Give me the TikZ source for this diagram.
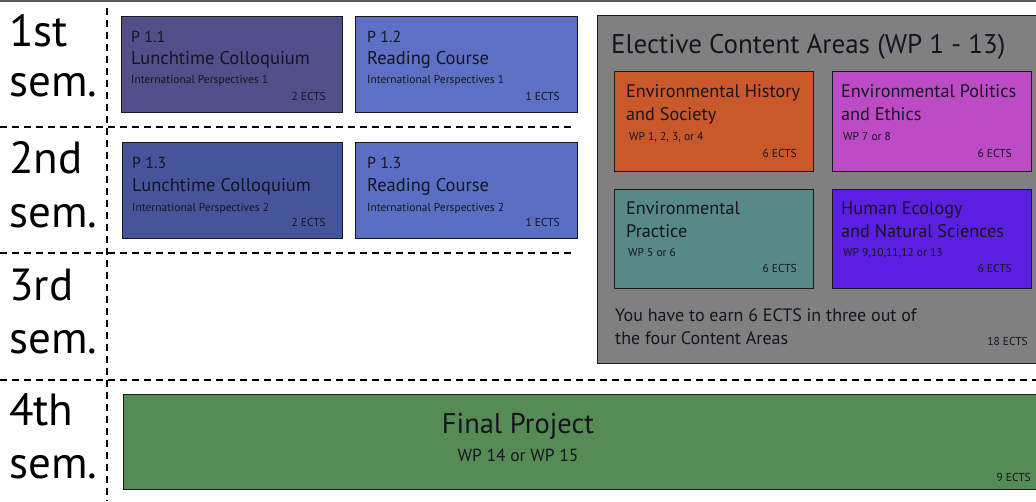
\documentclass[tikz,border=0pt]{standalone}
\usepackage{fontspec}
\setmainfont{PT Sans}
\definecolor{cP11}{HTML}{524E8C}
\definecolor{cP12}{HTML}{5D70C4}
\definecolor{cP13}{HTML}{46559B}
\definecolor{cP14}{HTML}{5A6EC3}
\definecolor{cGrey}{HTML}{808080}
\definecolor{cOrange}{HTML}{C9582A}
\definecolor{cMagenta}{HTML}{BD4BC6}
\definecolor{cTeal}{HTML}{578A87}
\definecolor{cPurple}{HTML}{5A1FE0}
\definecolor{cGreen}{HTML}{568B56}
\definecolor{cText}{HTML}{15151F}
\begin{document}
\begin{tikzpicture}[x=1pt,y=-1pt,
  boxnode/.style={draw=black!90, line width=1.2pt, anchor=north west, inner sep=0pt},
  txt/.style={anchor=base west, inner sep=0pt, text=cText},
  rtxt/.style={anchor=base east, inner sep=0pt, text=cText},
  semtxt/.style={anchor=base west, inner sep=0pt, font=\fontsize{45}{45}\selectfont},
  fpA/.style={font=\fontsize{16}{16}\selectfont},
  fpB/.style={font=\fontsize{18.5}{18.5}\selectfont},
  fpC/.style={font=\fontsize{11.5}{11.5}\selectfont},
  fpD/.style={font=\fontsize{18.2}{18.2}\selectfont},
  sepline/.style={line width=1.3pt, dash pattern=on 7pt off 5pt}]
\useasboundingbox (0,0) rectangle (1036,501);
\fill[white] (0,0) rectangle (1036,501);
\fill[black!65] (0,0) rectangle (1036,1.8);

% separators
\draw[sepline] (107,8) -- (107,501);
\draw[sepline] (0,127) -- (575,127);
\draw[sepline] (0,253) -- (575,253);
\draw[sepline] (0,380) -- (1036,380);

% semester labels
\node[semtxt] (s1a) at (9,46) {1st};
\node[semtxt] (s1b) at (9,96) {sem.};
\node[semtxt] (s2a) at (9,173) {2nd};
\node[semtxt] (s2b) at (9,227) {sem.};
\node[semtxt] (s3a) at (9,300) {3rd};
\node[semtxt] (s3b) at (9,353) {sem.};
\node[semtxt] (s4a) at (9,425) {4th};
\node[semtxt] (s4b) at (9,478) {sem.};

% first semester
\node[boxnode, fill=cP11, minimum width=221pt, minimum height=96pt] (p11) at (121,16) {};
\node[txt, fpA] at (131,42) {P 1.1};
\node[txt, fpB] at (131,64) {Lunchtime Colloquium};
\node[txt, fpC] at (131,83) {International Perspectives 1};
\node[rtxt, fpC] at (326,100) {2 ECTS};

\node[boxnode, fill=cP12, minimum width=222pt, minimum height=96pt] (p12) at (355,16) {};
\node[txt, fpA] at (367,42) {P 1.2};
\node[txt, fpB] at (367,64) {Reading Course};
\node[txt, fpC] at (367,83) {International Perspectives 1};
\node[rtxt, fpC] at (560,100) {1 ECTS};

% second semester
\node[boxnode, fill=cP13, minimum width=220pt, minimum height=96pt] (p13a) at (122,142) {};
\node[txt, fpA] at (132,168) {P 1.3};
\node[txt, fpB] at (132,191) {Lunchtime Colloquium};
\node[txt, fpC] at (132,211) {International Perspectives 2};
\node[rtxt, fpC] at (326,226) {2 ECTS};

\node[boxnode, fill=cP14, minimum width=222pt, minimum height=96pt] (p13b) at (355,142) {};
\node[txt, fpA] at (367,168) {P 1.3};
\node[txt, fpB] at (367,191) {Reading Course};
\node[txt, fpC] at (367,211) {International Perspectives 2};
\node[rtxt, fpC] at (560,226) {1 ECTS};

% elective content areas
\node[boxnode, fill=cGrey, minimum width=446pt, minimum height=348pt] (elec) at (597,15) {};
\node[txt, font=\fontsize{27}{27}\selectfont] (elect) at (611,53) {Elective Content Areas (WP 1 - 13)};

\node[boxnode, fill=cOrange, minimum width=199pt, minimum height=100pt] (ora) at (614,71) {};
\node[txt, fpD] at (626,97) {Environmental History};
\node[txt, fpD] at (626,120) {and Society};
\node[txt, fpC] at (629,140) {WP 1, 2, 3, or 4};
\node[rtxt, fpC] at (797,157) {6 ECTS};

\node[boxnode, fill=cMagenta, minimum width=199pt, minimum height=100pt] (mag) at (832,71) {};
\node[txt, fpD] at (841,97) {Environmental Politics};
\node[txt, fpD] at (841,120) {and Ethics};
\node[txt, fpC] at (843,140) {WP 7 or 8};
\node[rtxt, fpC] at (1012,157) {6 ECTS};

\node[boxnode, fill=cTeal, minimum width=199pt, minimum height=99pt] (tea) at (614,189) {};
\node[txt, fpD] at (626,214) {Environmental};
\node[txt, fpD] at (626,237) {Practice};
\node[txt, fpC] at (628,256) {WP 5 or 6};
\node[rtxt, fpC] at (797,272) {6 ECTS};

\node[boxnode, fill=cPurple, minimum width=199pt, minimum height=99pt] (pur) at (832,189) {};
\node[txt, fpD] at (841,214) {Human Ecology};
\node[txt, fpD] at (841,237) {and Natural Sciences};
\node[txt, fpC] at (843,256) {WP 9,10,11,12 or 13};
\node[rtxt, fpC] at (1012,272) {6 ECTS};

\node[txt, font=\fontsize{18}{18}\selectfont] (earn1) at (615,321) {You have to earn 6 ECTS in three out of};
\node[txt, font=\fontsize{18}{18}\selectfont] (earn2) at (615,344) {the four Content Areas};
\node[rtxt, fpC] (e18) at (1028,345) {18 ECTS};

% final project
\node[boxnode, fill=cGreen, minimum width=925pt, minimum height=95pt] (fin) at (123,394) {};
\node[anchor=base, inner sep=0pt, text=cText, font=\fontsize{28.5}{28.5}\selectfont] (fint) at (518,433) {Final Project};
\node[anchor=base, inner sep=0pt, text=cText, font=\fontsize{17.5}{17.5}\selectfont] (finw) at (518,461) {WP 14 or WP 15};
\node[rtxt, fpC] (e9) at (1031,481) {9 ECTS};
\end{tikzpicture}
\end{document}
